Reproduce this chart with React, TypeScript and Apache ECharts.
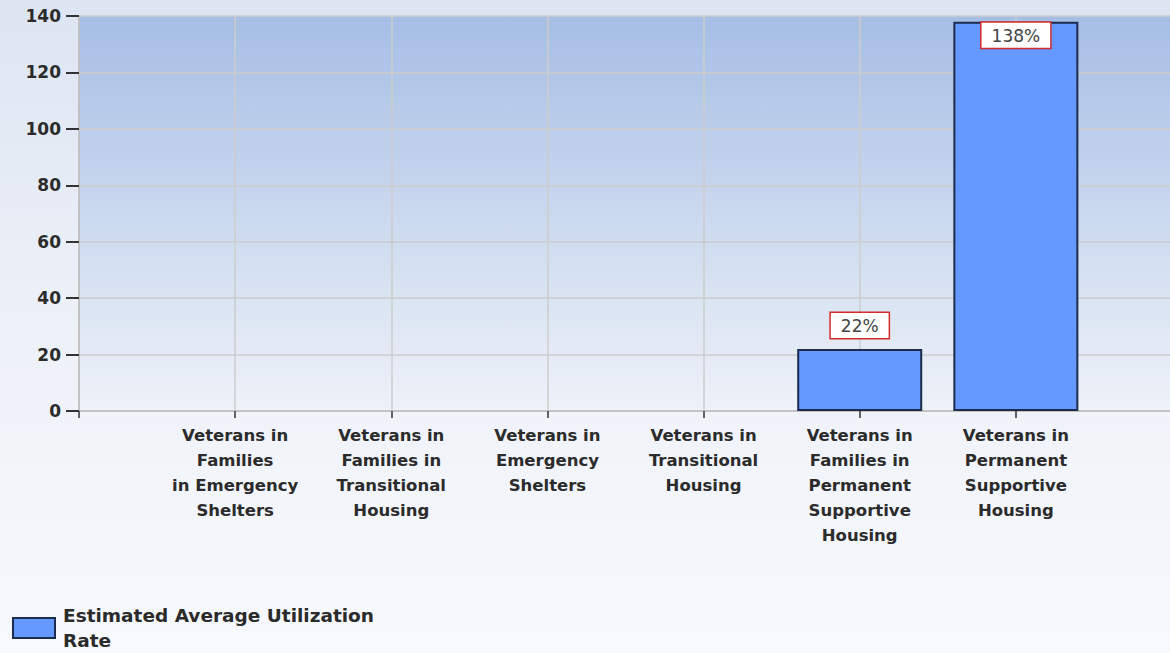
import React, { useEffect, useRef } from "react";
import * as echarts from "echarts";

const categories: string[] = [
  "Veterans in\nFamilies\nin Emergency\nShelters",
  "Veterans in\nFamilies in\nTransitional\nHousing",
  "Veterans in\nEmergency\nShelters",
  "Veterans in\nTransitional\nHousing",
  "Veterans in\nFamilies in\nPermanent\nSupportive\nHousing",
  "Veterans in\nPermanent\nSupportive\nHousing",
];
const utilization: (number | null)[] = [null, null, null, null, 22, 138];
const yTicks = { min: 0, max: 140, interval: 20 };
const seriesName = "Estimated Average Utilization\nRate";

export default function App() {
  const ref = useRef<HTMLDivElement>(null);
  useEffect(() => {
    if (!ref.current) return;
    const chart = echarts.init(ref.current, undefined, { renderer: "svg" });
    const axisCats = ["", ...categories, ""];
    const data = [
      null,
      ...utilization.map((v, i) =>
        v == null
          ? null
          : {
              value: v,
              label:
                i === utilization.length - 1
                  ? { position: "insideTop", distance: 1 }
                  : { position: "top", distance: 11 },
            }
      ),
      null,
    ];
    chart.setOption({
      animation: false,
      backgroundColor: "transparent",
      textStyle: { fontFamily: "DejaVu Sans" },
      grid: {
        left: 79,
        top: 16,
        right: -2,
        bottom: 242,
        outerBoundsMode: "none",
        containLabel: false,
        show: true,
        borderWidth: 0,
        backgroundColor: new echarts.graphic.LinearGradient(0, 0, 0, 1, [
          { offset: 0, color: "#a6bee5" },
          { offset: 0.7, color: "#d9e3f2" },
          { offset: 1, color: "#eef2f9" },
        ]),
      },
      legend: {
        left: 7,
        top: 598,
        orient: "vertical",
        icon: "rect",
        itemWidth: 42,
        itemHeight: 20,
        itemGap: 8,
        textStyle: {
          fontSize: 18.5,
          fontWeight: "bold",
          color: "#2b2b2b",
          lineHeight: 25,
          padding: [0, 0, 0, 3],
          fontFamily: "DejaVu Sans",
        },
        data: [seriesName],
      },
      xAxis: {
        type: "category",
        data: axisCats,
        boundaryGap: false,
        axisLine: { lineStyle: { color: "#bdbdbd", width: 1.5 } },
        axisTick: { show: true, length: 7, lineStyle: { color: "#333", width: 1.5 } },
        splitLine: { show: true, lineStyle: { color: "#cccccc", width: 1.5 } },
        axisLabel: {
          interval: 0,
          fontSize: 16.5,
          fontWeight: "bold",
          color: "#2b2b2b",
          lineHeight: 25,
          margin: 12,
          fontFamily: "DejaVu Sans",
        },
      },
      yAxis: {
        type: "value",
        min: yTicks.min,
        max: yTicks.max,
        interval: yTicks.interval,
        axisLine: { show: true, lineStyle: { color: "#bdbdbd", width: 1.5 } },
        axisTick: { show: true, length: 13, lineStyle: { color: "#333", width: 2 } },
        splitLine: { show: true, lineStyle: { color: "#cccccc", width: 1.5 } },
        axisLabel: {
          fontSize: 17,
          fontWeight: "bold",
          color: "#2b2b2b",
          margin: 18,
          fontFamily: "DejaVu Sans",
        },
      },
      series: [
        {
          name: seriesName,
          type: "bar",
          barWidth: 125,
          data,
          itemStyle: { color: "#6699ff", borderColor: "#1c2c4c", borderWidth: 2 },
          label: {
            show: true,
            formatter: "{c}%",
            fontSize: 17,
            color: "#444",
            backgroundColor: "#ffffff",
            borderColor: "#d42a2a",
            borderWidth: 1.5,
            padding: [5, 10, 3, 10],
            fontFamily: "DejaVu Sans",
          },
        },
      ],
    });
    return () => chart.dispose();
  }, []);
  return (
    <div
      ref={ref}
      style={{
        position: "fixed",
        left: 0,
        top: 0,
        width: 1170,
        height: 653,
        background: "linear-gradient(to bottom, #dde5f2 0%, #edf1f8 50%, #f7f9fc 100%)",
      }}
    />
  );
}
